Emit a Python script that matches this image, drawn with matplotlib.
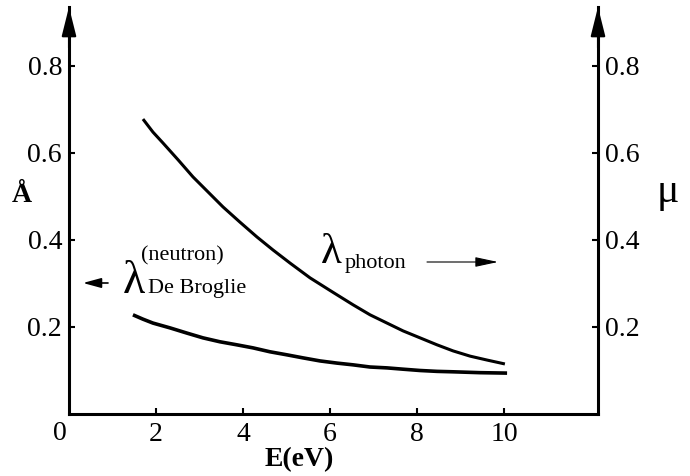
import matplotlib
matplotlib.use('Agg')
import matplotlib.pyplot as plt

# values
energy_photon = [1.70, 1.93, 2.16, 2.51, 2.85, 3.20, 3.54, 3.93, 4.32, 4.69, 5.08, 5.54,
	6.00, 6.16, 6.53, 6.92, 7.31, 7.68, 8.07, 8.46, 8.83, 9.22, 9.61, 10.02]
lam_photon = [0.678, 0.648, 0.623, 0.584, 0.545, 0.510, 0.476, 0.441, 0.407, 0.377, 0.347, 0.313,
	0.284, 0.274, 0.251, 0.228, 0.209, 0.191, 0.175, 0.159, 0.145, 0.133, 0.124, 0.115]
energy_neutron = [1.47, 1.70, 1.93, 2.32, 2.71, 3.08, 3.47, 3.86, 4.23, 4.62, 5.01, 5.38,
	5.77, 6.16, 6.53, 6.92, 7.31, 7.68, 8.07, 8.46, 8.83, 9.45, 10.07]
lam_neutron = [0.228, 0.218, 0.209, 0.198, 0.186, 0.175, 0.166, 0.159, 0.152, 0.143, 0.136, 0.129,
	0.122, 0.117, 0.113, 0.108, 0.106, 0.103, 0.100, 0.098, 0.097, 0.095, 0.094]
xticks = [2, 4, 6, 8, 10]
yticks = [0.2, 0.4, 0.6, 0.8]
ytick_labels = ['0.2', '0.4', '0.6', '0.8']

plt.rcParams['font.family'] = ['Liberation Serif', 'DejaVu Serif']

W, H = 690, 476
fig = plt.figure(figsize=(W / 100, H / 100), dpi=100)

def fpos(x, y):
	# pixel position (from top left) to figure fraction
	return x / W, 1 - y / H

ax = fig.add_axes([69 / W, 1 - 414 / H, (598 - 69) / W, (414 - 7) / H])
ax.plot(energy_photon, lam_photon, color='k', lw=2.2, solid_capstyle='butt', solid_joinstyle='round')
ax.plot(energy_neutron, lam_neutron, color='k', lw=2.6, solid_capstyle='butt', solid_joinstyle='round')
ax.set_xlim(0, 12.16)
ax.set_ylim(0, 0.9356)
ax.spines['top'].set_visible(False)
for s in ['left', 'right', 'bottom']:
	ax.spines[s].set_linewidth(2.2)
ax.set_xticks(xticks)
ax.set_yticks(yticks)
ax.set_yticklabels(ytick_labels)
ax.tick_params(direction='in', length=4.5, width=1.5, labelsize=20, pad=6)
ax.tick_params(axis='y', left=True, right=True, labelleft=True, labelright=True, pad=5)

# arrow heads on top of both vertical axes
for xa in (0, 1):
	ax.annotate('', xy=(xa, 1.0), xytext=(xa, 0.9), xycoords='axes fraction',
		arrowprops=dict(arrowstyle='-|>,head_length=1.8,head_width=0.45',
			mutation_scale=10, color='k', lw=1.5, shrinkA=0, shrinkB=0))

fig.text(*fpos(60, 434), '0', size=20, ha='center', va='center')
fig.text(*fpos(299, 460), 'E(eV)', size=20, fontweight='bold', ha='center', va='center')
fig.text(*fpos(22, 195), 'Å', size=20, fontweight='bold', ha='center', va='center')
fig.text(*fpos(668, 192), 'μ', size=30, ha='center', va='center')

# neutron label
fig.text(*fpos(123, 293), 'λ', size=33, ha='left', va='baseline')
fig.text(*fpos(141, 260), '(neutron)', size=16, ha='left', va='baseline')
fig.text(*fpos(148, 293), 'De Broglie', size=16, ha='left', va='baseline')
ax.annotate('', xy=fpos(83, 283), xytext=fpos(108, 283), xycoords='figure fraction',
	annotation_clip=False,
	arrowprops=dict(arrowstyle='-|>,head_length=1.1,head_width=0.3',
		mutation_scale=10, color='k', lw=1.2, shrinkA=0, shrinkB=0))

# photon label
fig.text(*fpos(321, 263), 'λ', size=31, ha='left', va='baseline')
fig.text(*fpos(345, 268), 'photon', size=16, ha='left', va='baseline')
ax.annotate('', xy=fpos(498, 262), xytext=fpos(427, 262), xycoords='figure fraction',
	annotation_clip=False,
	arrowprops=dict(arrowstyle='-|>,head_length=1.4,head_width=0.3',
		mutation_scale=10, color='k', lw=0.8, shrinkA=0, shrinkB=0))

fig.savefig('out.png', dpi=100)
